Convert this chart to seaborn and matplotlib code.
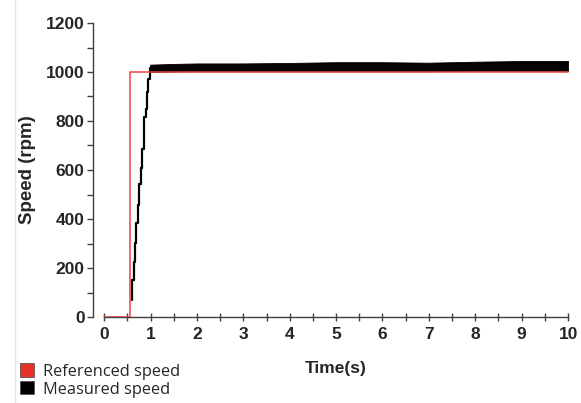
import numpy as np
import pandas as pd
import matplotlib
matplotlib.use("Agg")
import matplotlib.pyplot as plt
import seaborn as sns
from matplotlib.patches import Patch
from matplotlib.lines import Line2D
from matplotlib.ticker import MultipleLocator

# Reference speed (step)
ref_t = [0.0, 0.56, 0.56, 10.0]
ref_speed = [0, 0, 1000, 1000]

# Measured speed: rise (read from staircase)
rise_t = [0.60, 0.60, 0.65, 0.67, 0.69, 0.73, 0.75, 0.79, 0.81, 0.85, 0.87, 0.91, 0.92, 0.95, 0.99]
rise_speed = [70, 152, 225, 303, 385, 459, 541, 610, 684, 766, 815, 848, 917, 970, 1015]

# Measured speed: oscillation envelope in steady state
band_t = [0.99, 1.5, 2, 3, 4, 5, 6, 7, 8, 9, 10]
band_upper = [1030, 1033, 1035, 1035, 1037, 1040, 1040, 1038, 1042, 1045, 1045]
band_lower = [1000, 1002, 1003, 1003, 1003, 1003, 1003, 1003, 1005, 1005, 1005]

x_ticks = list(range(0, 11))
y_ticks = list(range(0, 1201, 200))

sns.set_style("white")
plt.rcParams['font.family'] = ['Liberation Sans', 'DejaVu Sans']

fig = plt.figure(figsize=(5.81, 4.03), dpi=100)
ax = fig.add_axes([93/581, 1-317/403, (569-93)/581, (317-23)/403])

ref_df = pd.DataFrame({"t": ref_t, "speed": ref_speed})
rise_df = pd.DataFrame({"t": rise_t, "speed": rise_speed})

sns.lineplot(data=rise_df, x="t", y="speed", ax=ax, color="black", lw=1.6,
             sort=False, estimator=None, drawstyle="steps-post", zorder=3)
ax.fill_between(band_t, band_lower, band_upper, color="black", lw=0.6,
                edgecolor="black", zorder=3)
sns.lineplot(data=ref_df, x="t", y="speed", ax=ax, color="#f04040", lw=1.1,
             sort=False, estimator=None, zorder=4)

ax.set_xlim(-0.24, 10.02)
ax.set_ylim(0, 1200)
ax.spines['top'].set_visible(False)
ax.spines['right'].set_visible(False)
ax.spines['bottom'].set_bounds(0, 10)
ax.spines['left'].set_bounds(0, 1200)
for s in ['bottom', 'left']:
    ax.spines[s].set_color('#404040')
    ax.spines[s].set_linewidth(1.0)

ax.set_xticks(x_ticks)
ax.set_yticks(y_ticks)
ax.xaxis.set_minor_locator(MultipleLocator(0.5))
ax.yaxis.set_minor_locator(MultipleLocator(100))
ax.tick_params(axis='x', which='both', direction='inout', length=6, width=1,
               color='#404040', labelsize=12.5, pad=4, bottom=True)
ax.tick_params(axis='y', which='both', direction='out', length=4, width=1,
               color='#404040', labelsize=12.5, pad=2, left=True)
for lab in ax.get_xticklabels() + ax.get_yticklabels():
    lab.set_fontweight('bold')

ax.set_xlabel("")
ax.set_ylabel("")
fig.text(336/581, 1-368/403, "Time(s)", ha='center', va='center',
         fontsize=12.5, fontweight='bold')
fig.text(28/581, 1-170/403, "Speed (rpm)", ha='center', va='center',
         rotation=90, fontsize=13.5, fontweight='bold')

handles = [Patch(facecolor='#e8302a', edgecolor='#444444', lw=0.5),
           Patch(facecolor='black', edgecolor='#444444', lw=0.5)]
fig.legend(handles, ["Referenced speed", "Measured speed"],
           loc='lower left', bbox_to_anchor=(9/581, -6/403), frameon=False,
           prop={'family': ['Open Sans', 'DejaVu Sans'], 'size': 11.8},
           handlelength=0.85, handleheight=0.85, handletextpad=0.55,
           labelspacing=0.1, borderpad=0.2)

fig.add_artist(Line2D([15/581, 15/581], [0, 1], color='#e4e4e4', lw=1,
                      transform=fig.transFigure))

fig.savefig("out.png", dpi=100)
